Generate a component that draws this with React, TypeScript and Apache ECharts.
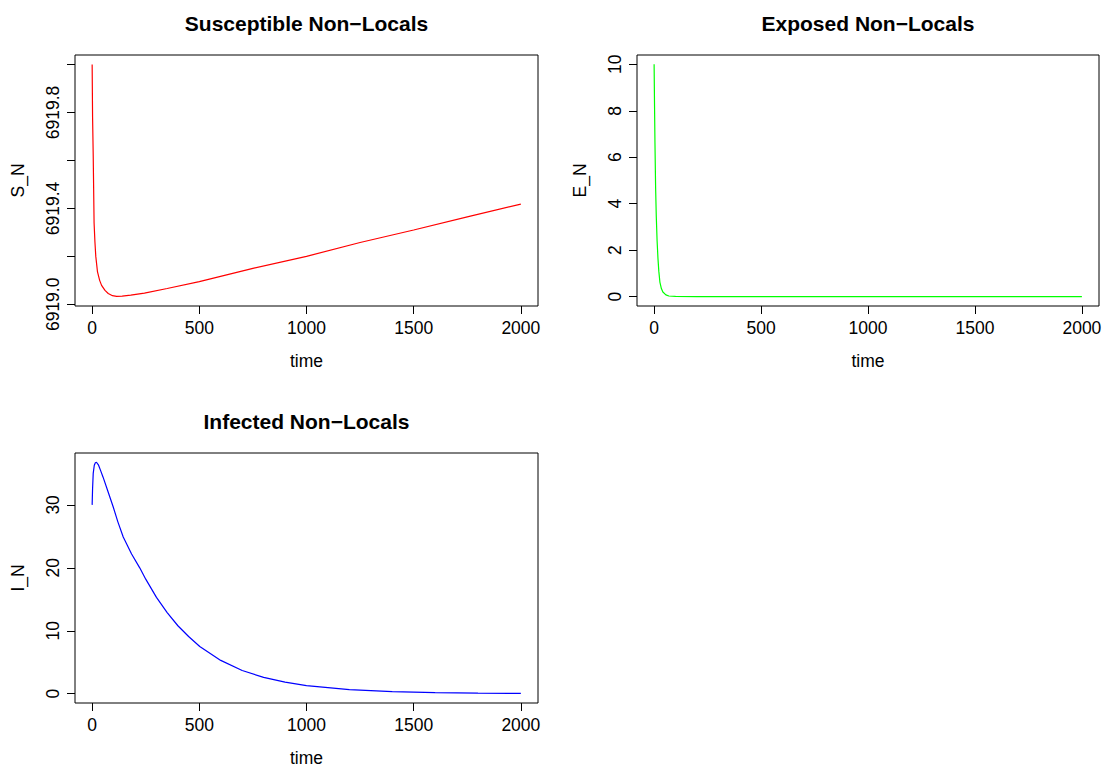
import React, { useEffect, useRef } from "react";
import * as echarts from "echarts";

const FONT = "'Liberation Sans', Arial, Helvetica, sans-serif";

// time points and values
const T_S = [0, 2, 5, 9, 13, 17, 25, 35, 44, 60, 75, 95, 114, 140, 180, 244, 350, 500, 750, 1000, 1250, 1500, 1750, 2000];
const S_N = [6920.0, 6919.78, 6919.62, 6919.34, 6919.26, 6919.2, 6919.135, 6919.1, 6919.079, 6919.058, 6919.045, 6919.036, 6919.033, 6919.034, 6919.038, 6919.047, 6919.066, 6919.095, 6919.15, 6919.2, 6919.258, 6919.31, 6919.365, 6919.418];

const T_E = [0, 2, 4, 7, 10, 14, 18, 22, 27, 34, 41, 55, 69, 100, 200, 500, 1000, 2000];
const E_N = [10, 8.2, 6.6, 4.7, 3.5, 2.4, 1.65, 1.1, 0.63, 0.35, 0.2, 0.08, 0.03, 0.01, 0.003, 0.001, 0, 0];

const T_I = [0, 2, 5, 10, 15, 20, 30, 40, 51, 75, 98, 120, 145, 184, 222, 250, 300, 350, 400, 450, 502, 600, 700, 800, 900, 1000, 1200, 1400, 1600, 1800, 2000];
const I_N = [30, 32.6, 35.0, 36.3, 36.7, 36.77, 36.3, 35.4, 34.4, 32.0, 29.7, 27.3, 24.9, 22.2, 20.0, 18.2, 15.3, 12.9, 10.8, 9.1, 7.5, 5.3, 3.7, 2.6, 1.85, 1.3, 0.65, 0.33, 0.17, 0.09, 0.05];

const X_TICKS = [0, 500, 1000, 1500, 2000];
const S_TICKS = [6919.0, 6919.2, 6919.4, 6919.6, 6919.8, 6920.0];
const S_LABELS = [6919.0, 6919.4, 6919.8];
const E_TICKS = [0, 2, 4, 6, 8, 10];
const I_TICKS = [0, 10, 20, 30];

const TITLES = ["Susceptible Non\u2212Locals", "Exposed Non\u2212Locals", "Infected Non\u2212Locals"];
const Y_NAMES = ["S_N", "E_N", "I_N"];
const X_NAME = "time";

function pairs(t: number[], v: number[]) {
  return t.map((x, i) => [x, v[i]]);
}

export default function App() {
  const ref = useRef<HTMLDivElement>(null);
  useEffect(() => {
    if (!ref.current) return;
    const chart = echarts.init(ref.current, undefined, { renderer: "svg" });
    const grids = [
      { left: 75, top: 55, width: 463, height: 251 },
      { left: 637, top: 55, width: 462, height: 251 },
      { left: 75, top: 453, width: 463, height: 250 },
    ];
    const textStyle = { color: "#000", fontFamily: FONT, fontSize: 17.5 };
    const xAxes = grids.map((_, i) => ({
      type: "value",
      gridIndex: i,
      min: -80,
      max: 2080,
      name: X_NAME,
      nameLocation: "middle",
      nameGap: 47,
      nameTextStyle: { ...textStyle, lineHeight: 16 },
      axisLine: { show: false, onZero: false },
      splitLine: { show: false },
      axisTick: { show: true, inside: false, length: 8, customValues: X_TICKS, lineStyle: { color: "#000", width: 1 } },
      axisLabel: { ...textStyle, margin: 13, customValues: X_TICKS, formatter: (v: number) => String(v) },
    }));
    const yCfg = [
      { min: 6918.993, max: 6920.04, ticks: S_TICKS, labels: S_LABELS, fmt: (v: number) => v.toFixed(1) },
      { min: -0.4, max: 10.4, ticks: E_TICKS, labels: E_TICKS, fmt: (v: number) => String(v) },
      { min: -1.47, max: 38.24, ticks: I_TICKS, labels: I_TICKS, fmt: (v: number) => String(v) },
    ];
    const yAxes = yCfg.map((c, i) => ({
      type: "value",
      gridIndex: i,
      min: c.min,
      max: c.max,
      name: Y_NAMES[i],
      nameLocation: "middle",
      nameGap: 48,
      nameTextStyle: textStyle,
      axisLine: { show: false, onZero: false },
      splitLine: { show: false },
      axisTick: { show: true, inside: false, length: 8, customValues: c.ticks, lineStyle: { color: "#000", width: 1 } },
      axisLabel: { ...textStyle, margin: 13, rotate: 90, customValues: c.labels, formatter: c.fmt },
    }));
    const colors = ["#FF0000", "#00FF00", "#0000FF"];
    const datas = [pairs(T_S, S_N), pairs(T_E, E_N), pairs(T_I, I_N)];
    chart.setOption({
      animation: false,
      backgroundColor: "#fff",
      grid: grids.map((g) => ({ ...g, show: true, borderColor: "#000", borderWidth: 1, backgroundColor: "transparent", containLabel: false, outerBoundsMode: "none" })),
      xAxis: xAxes,
      yAxis: yAxes,
      series: datas.map((d, i) => ({
        type: "line",
        xAxisIndex: i,
        yAxisIndex: i,
        data: d,
        showSymbol: false,
        symbol: "none",
        smooth: false,
        lineStyle: { color: colors[i], width: 1.2 },
        itemStyle: { color: colors[i] },
      })),
      graphic: grids.map((g, i) => ({
        type: "text",
        x: g.left + g.width / 2,
        y: i < 2 ? 23 : 421,
        style: {
          text: TITLES[i],
          align: "center",
          verticalAlign: "middle",
          fontFamily: FONT,
          fontSize: 21,
          fontWeight: "bold",
          fill: "#000",
        },
      })),
    });
    return () => chart.dispose();
  }, []);
  return <div ref={ref} style={{ position: "absolute", left: 0, top: 0, width: 1105, height: 767 }} />;
}
